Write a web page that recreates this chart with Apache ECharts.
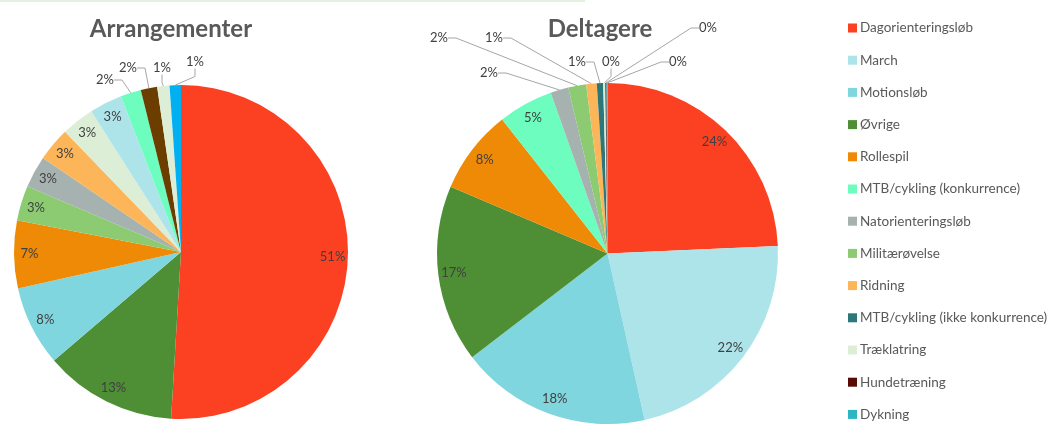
<!DOCTYPE html>
<html>
<head>
<meta charset="utf-8">
<script src="https://cdn.jsdelivr.net/npm/echarts@6/dist/echarts.min.js"></script>
<style>
html,body{margin:0;padding:0;background:#fff;}
#c{width:1057px;height:424px;}
</style>
</head>
<body>
<div id="c"></div>
<script>
// ---- Data ----
const legendNames = ['Dagorienteringsløb','March','Motionsløb','Øvrige','Rollespil','MTB/cykling (konkurrence)','Natorienteringsløb','Militærøvelse','Ridning','MTB/cykling (ikke konkurrence)','Træklatring','Hundetræning','Dykning'];

// Deltagere (participants), share in %, in drawing order
const deltagereNames = ['Dagorienteringsløb','March','Motionsløb','Øvrige','Rollespil','MTB/cykling (konkurrence)','Natorienteringsløb','Militærøvelse','Ridning','MTB/cykling (ikke konkurrence)','Træklatring','Hundetræning','Dykning'];
const deltagereValues = [24.3, 22.2, 18.1, 16.8, 8.0, 5.2, 1.7, 1.7, 1.0, 0.6, 0.2, 0.1, 0.1];
const deltagereColors = ['#FB4122','#ADE4EA','#80D6DE','#4E8F36','#EF8A06','#6CFDBF','#A6B2AF','#8DCB72','#FDB55A','#2D767A','#DCEED6','#5A0A05','#2CB5C3'];

// Arrangementer (events), share in %, in drawing order
const arrNames = ['Dagorienteringsløb','Øvrige','Motionsløb','Rollespil','Militærøvelse','Natorienteringsløb','Ridning','Træklatring','March','MTB/cykling (konkurrence)','Hundetræning','MTB/cykling (ikke konkurrence)','Dykning'];
const arrValues = [51.3, 12.9, 7.8, 6.6, 3.4, 3.1, 3.3, 3.2, 3.2, 2.0, 1.6, 1.2, 1.1];
const arrColors = ['#FB4122','#4E8F36','#80D6DE','#EF8A06','#8DCB72','#A6B2AF','#FDB55A','#DCEED6','#ADE4EA','#6CFDBF','#6B3E00','#DCEED6','#00B0F0'];

// ---- Layout (label placement for small outside labels, by slice name) ----
const rightLabelPos = {
  'Natorienteringsløb':[489,73], 'Militærøvelse':[439,38], 'Ridning':[494,38],
  'MTB/cykling (ikke konkurrence)':[577,62], 'Træklatring':[611,62],
  'Hundetræning':[708,28], 'Dykning':[678,62]
};
const leftLabelPos = {
  'MTB/cykling (konkurrence)':[105,80], 'Hundetræning':[128,68],
  'MTB/cykling (ikke konkurrence)':[162,68], 'Dykning':[195,62]
};

// ---- Build ----
const FONT = 'Lato, "Open Sans", sans-serif';
function pctFmt(p){ return Math.round(p.percent) + '%'; }
function total(a){ return a.reduce((s,v)=>s+v,0); }

function mainData(names, values, colors, thr){
  const t = total(values);
  return names.map((n,i)=>({
    name:n, value:values[i], itemStyle:{color:colors[i]},
    label:{show: values[i]/t*100 < thr},
    labelLine:{show: values[i]/t*100 < thr}
  }));
}
function ringData(names, values, thr){
  const t = total(values);
  return names.map((n,i)=>({
    name:n, value:values[i],
    label:{show: values[i]/t*100 >= thr}
  }));
}

const labelText = {color:'#404040', fontSize:13, fontFamily:FONT};

function mainSeries(names, values, colors, center, radius, thr, posMap){
  return {
    type:'pie', center:center, radius:radius, startAngle:90, clockwise:true,
    avoidLabelOverlap:false, minAngle:0,
    data: mainData(names, values, colors, thr),
    label: Object.assign({position:'outside', formatter:pctFmt}, labelText),
    labelLine:{length:8, length2:8, lineStyle:{color:'#A6A6A6', width:1}},
    labelLayout: function(p){
      const pos = posMap[names[p.dataIndex]];
      if(!pos) return {};
      return {x:pos[0], y:pos[1], align:'center', verticalAlign:'middle'};
    },
    itemStyle:{borderWidth:0},
    emphasis:{disabled:true},
    z:2
  };
}
function ringSeries(names, values, center, radius, thr){
  return {
    type:'pie', center:center, radius:[radius*0.78, radius], startAngle:90, clockwise:true,
    silent:true,
    data: ringData(names, values, thr),
    itemStyle:{color:'rgba(0,0,0,0)'},
    label: Object.assign({position:'inside', formatter:pctFmt}, labelText),
    labelLine:{show:false},
    emphasis:{disabled:true},
    z:3
  };
}

const rightCenter = [607.5, 253.5], rightR = 170.5;
const leftCenter = [181, 252], leftR = 167;

const chart = echarts.init(document.getElementById('c'), null, {renderer:'canvas'});
chart.setOption({
  backgroundColor:'#ffffff',
  animation:false,
  title:[
    {text:'Arrangementer', left:166, top:12, textAlign:'center',
     textStyle:{fontFamily:FONT, fontSize:24, fontWeight:'bold', color:'#595959'}},
    {text:'Deltagere', left:595, top:12, textAlign:'center',
     textStyle:{fontFamily:FONT, fontSize:24, fontWeight:'bold', color:'#595959'}}
  ],
  legend:{
    orient:'vertical', left:848, top:21, padding:0, itemWidth:9, itemHeight:9, itemGap:18.2,
    icon:'rect', data:legendNames, selectedMode:false,
    textStyle:{fontFamily:FONT, fontSize:13.5, color:'#595959', lineHeight:14, padding:[0,0,0,-2]}
  },
  graphic:[{type:'rect', shape:{x:0,y:0,width:585,height:2}, style:{fill:'#E4F1E0'}, silent:true}],
  series:[
    mainSeries(deltagereNames, deltagereValues, deltagereColors, rightCenter, rightR, 4, rightLabelPos),
    mainSeries(arrNames, arrValues, arrColors, leftCenter, leftR, 2.5, leftLabelPos),
    ringSeries(deltagereNames, deltagereValues, rightCenter, rightR, 4),
    ringSeries(arrNames, arrValues, leftCenter, leftR, 2.5)
  ]
});
</script>
</body>
</html>
